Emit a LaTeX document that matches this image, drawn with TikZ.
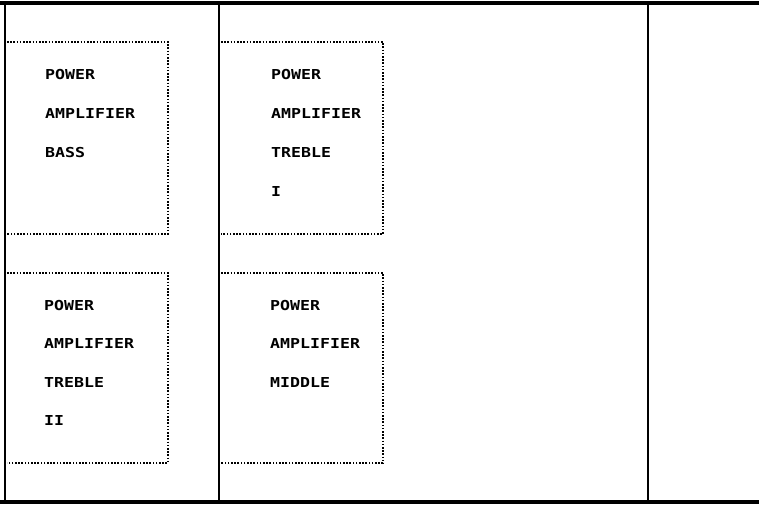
\documentclass[tikz,border=0pt]{standalone}
\usepackage{fontspec}
\newfontfamily\plotfont[FakeStretch=1.21]{DejaVu Sans Mono Bold}
\begin{document}
\begin{tikzpicture}[x=1pt,y=-1pt,
  frame/.style={line width=1.6pt,black},
  rail/.style={line width=4.5pt,black},
  dotbox/.style={line width=1.6pt,dash pattern=on 1.6pt off 1.6pt,black},
  lbl/.style={font=\plotfont\fontsize{13.7}{14}\selectfont,inner sep=0pt,anchor=base west}]
\useasboundingbox (0,0) rectangle (759,506);
% outer frame
\draw[rail] (0,3) -- (759,3);
\draw[rail] (0,502) -- (759,502);
\draw[frame] (5,1) -- (5,504);
\draw[frame] (219,1) -- (219,504);
\draw[frame] (648,1) -- (648,504);
% dotted boxes
\draw[dotbox] (7,42) -- (168,42) -- (168,234) -- (7,234);
\draw[dotbox] (221,42) -- (383,42) -- (383,234) -- (221,234);
\draw[dotbox] (7,273) -- (168,273) -- (168,463) -- (7,463);
\draw[dotbox] (221,273) -- (383,273) -- (383,463) -- (221,463);
% labels
\node[lbl] (a1) at (45,79) {POWER};
\node[lbl] (a2) at (45,118) {AMPLIFIER};
\node[lbl] (a3) at (45,157) {BASS};
\node[lbl] (b1) at (271,79) {POWER};
\node[lbl] (b2) at (271,118) {AMPLIFIER};
\node[lbl] (b3) at (271,157) {TREBLE};
\node[lbl] (b4) at (271,196) {I};
\node[lbl] (c1) at (44,310) {POWER};
\node[lbl] (c2) at (44,348) {AMPLIFIER};
\node[lbl] (c3) at (44,387) {TREBLE};
\node[lbl] (c4) at (44,425) {II};
\node[lbl] (d1) at (270,310) {POWER};
\node[lbl] (d2) at (270,348) {AMPLIFIER};
\node[lbl] (d3) at (270,387) {MIDDLE};
\end{tikzpicture}
\end{document}
